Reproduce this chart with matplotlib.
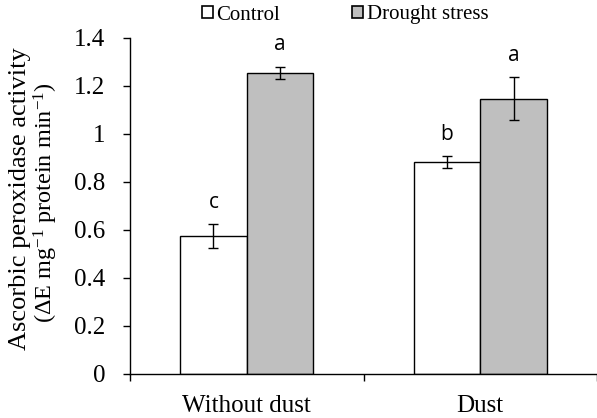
import matplotlib
matplotlib.use("Agg")
import matplotlib.pyplot as plt
import numpy as np
from matplotlib.patches import Patch

categories = ["Without dust", "Dust"]
control = [0.575, 0.883]
control_err = [0.05, 0.025]
drought = [1.255, 1.146]
drought_err = [0.025, 0.09]
control_letters = ["c", "b"]
drought_letters = ["a", "a"]
yticks = [0, 0.2, 0.4, 0.6, 0.8, 1.0, 1.2, 1.4]
ytick_labels = ["0", "0.2", "0.4", "0.6", "0.8", "1", "1.2", "1.4"]

serif = "Liberation Serif"
sans = "Open Sans"
plt.rcParams["mathtext.fontset"] = "custom"
plt.rcParams["mathtext.rm"] = serif
plt.rcParams["mathtext.it"] = serif + ":italic"
plt.rcParams["mathtext.bf"] = serif + ":bold"

fig = plt.figure(figsize=(5.97, 4.18), dpi=100)
ax = fig.add_axes([130/597, 1-373.7/418, 1-130/597, (373.7-37.7)/418])

x = np.arange(len(categories))
w = 0.285
ax.bar(x - w/2, control, w, color="white", edgecolor="black", linewidth=1.0, zorder=2)
ax.bar(x + w/2, drought, w, color="#bfbfbf", edgecolor="black", linewidth=1.0, zorder=2)
ax.errorbar(x - w/2, control, yerr=control_err, fmt="none", ecolor="black", elinewidth=1.0, capsize=3.5, capthick=1.0, zorder=3)
ax.errorbar(x + w/2, drought, yerr=drought_err, fmt="none", ecolor="black", elinewidth=1.0, capsize=3.5, capthick=1.0, zorder=3)

for xi, v, e, t in zip(x - w/2, control, control_err, control_letters):
    ax.text(xi, v + e + 0.09, t, ha="center", va="center", fontsize=15, family=sans)
for xi, v, e, t in zip(x + w/2, drought, drought_err, drought_letters):
    ax.text(xi, v + e + 0.09, t, ha="center", va="center", fontsize=15, family=sans)

ax.set_xlim(-0.5, 1.5)
ax.set_ylim(0, 1.4)
ax.set_yticks(yticks)
ax.set_yticklabels(ytick_labels, fontsize=18, family=serif)
ax.set_xticks(x)
ax.set_xticklabels(categories, fontsize=18, family=serif)
ax.set_xticks([-0.5, 0.5, 1.5], minor=True)
ax.tick_params(axis="x", which="major", length=0, pad=15.5)
ax.tick_params(axis="x", which="minor", length=5, width=1, direction="out")
ax.tick_params(axis="y", length=5, width=1, direction="out", pad=13)
for s in ["top", "right"]:
    ax.spines[s].set_visible(False)
for s in ["left", "bottom"]:
    ax.spines[s].set_linewidth(1.0)

fig.text(20/597, 1-199/418, "Ascorbic peroxidase activity", rotation=90, ha="center", va="center",
         fontsize=19, family=serif)
fig.text(46/597, 1-203/418, "(ΔE mg$^{\\mathregular{-1}}$ protein min$^{\\mathregular{-1}}$)", rotation=90,
         ha="center", va="center", fontsize=17.5, family=serif)

handles = [Patch(facecolor="white", edgecolor="black", linewidth=1.2),
           Patch(facecolor="#bfbfbf", edgecolor="black", linewidth=1.2)]
fig.legend(handles, ["Control", "Drought stress"], loc="center", bbox_to_anchor=(345/597, 1-15/418),
           ncol=2, frameon=False, prop={"family": serif, "size": 15},
           handlelength=0.55, handleheight=0.55, handletextpad=0.15, columnspacing=3.45)

fig.savefig("out.png", dpi=100)
